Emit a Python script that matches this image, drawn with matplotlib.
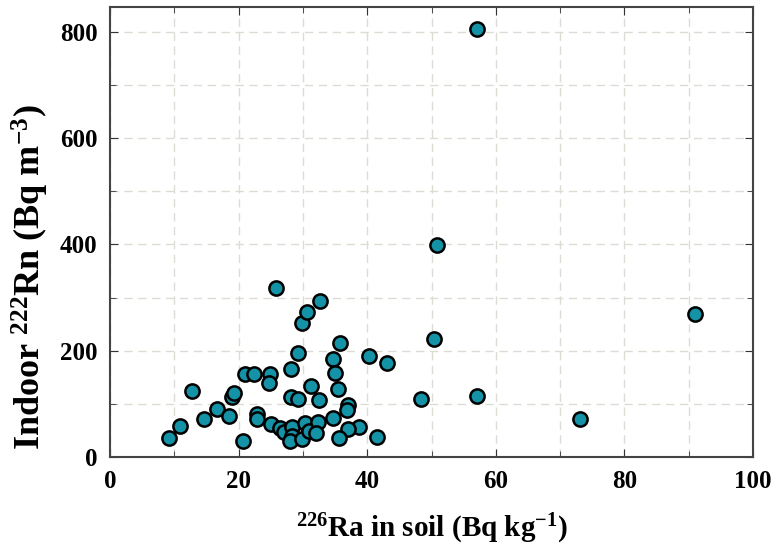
import matplotlib
matplotlib.use("Agg")
import matplotlib.pyplot as plt
from matplotlib.ticker import MultipleLocator

plt.rcParams["font.family"] = ["Liberation Serif", "DejaVu Serif"]
plt.rcParams["font.weight"] = "bold"
plt.rcParams["mathtext.fontset"] = "custom"
plt.rcParams["mathtext.rm"] = "Liberation Serif:bold"
plt.rcParams["mathtext.bf"] = "Liberation Serif:bold"
plt.rcParams["mathtext.it"] = "Liberation Serif:bold"

# 226Ra in soil (Bq/kg)
ra_soil = [9.2, 10.9, 12.7, 14.6, 16.7, 18.5, 18.9, 19.3, 20.7, 21.0,
           22.4, 22.8, 22.8, 24.9, 24.7, 25.8, 25.0, 26.4, 27.1, 28.2,
           29.3, 28.2, 29.3, 28.3, 28.3, 28.0, 29.9, 30.7, 30.3, 29.8,
           31.2, 30.9, 32.6, 35.8, 40.3, 43.1, 34.7, 35.0, 35.5, 32.5,
           37.0, 36.8, 34.7, 38.7, 37.0, 35.6, 41.5, 32.3, 32.1, 50.9,
           50.4, 48.4, 57.0, 73.1, 91.0, 57.1]
# indoor 222Rn (Bq/m3)
rn_indoor = [35, 59, 125, 71, 90, 77, 113, 120, 30, 157,
             157, 81, 71, 157, 140, 318, 63, 55, 47, 165,
             195, 112, 109, 57, 40, 30, 252, 273, 64, 34,
             134, 48, 293, 215, 190, 176, 184, 158, 128, 108,
             97, 89, 73, 57, 52, 36, 37, 65, 46, 399,
             223, 110, 115, 71, 270, 806]

fig = plt.figure(figsize=(7.74, 5.54), dpi=100)
ax = fig.add_axes([110 / 774, 97 / 554, 643 / 774, 450 / 554])

ax.scatter(ra_soil, rn_indoor, s=105, facecolor="#1492a6", edgecolor="black",
           linewidth=1.8, zorder=3)

ax.set_xlim(0, 100)
ax.set_ylim(0, 847)
ax.xaxis.set_major_locator(MultipleLocator(20))
ax.xaxis.set_minor_locator(MultipleLocator(10))
ax.yaxis.set_major_locator(MultipleLocator(200))
ax.yaxis.set_minor_locator(MultipleLocator(100))

ax.grid(True, which="both", color="#dcdcd4", linestyle=(0, (6, 4)), linewidth=1.0, zorder=0)
ax.tick_params(which="both", direction="in", top=True, right=True, color="#333333")
ax.tick_params(which="major", length=6, labelsize=18, pad=9)
ax.tick_params(which="minor", length=4)
for sp in ax.spines.values():
    sp.set_color("#444444")
    sp.set_linewidth(1.5)

ax.set_xlabel(r"$^{226}$Ra in soil (Bq kg$^{-1}$)", fontsize=21, fontweight="bold", labelpad=14)
ax.set_ylabel(r"Indoor $^{222}$Rn (Bq m$^{-3}$)", fontsize=26, fontweight="bold")
ax.yaxis.set_label_coords(-0.091, 0.40)

fig.savefig("out.png", dpi=100)
